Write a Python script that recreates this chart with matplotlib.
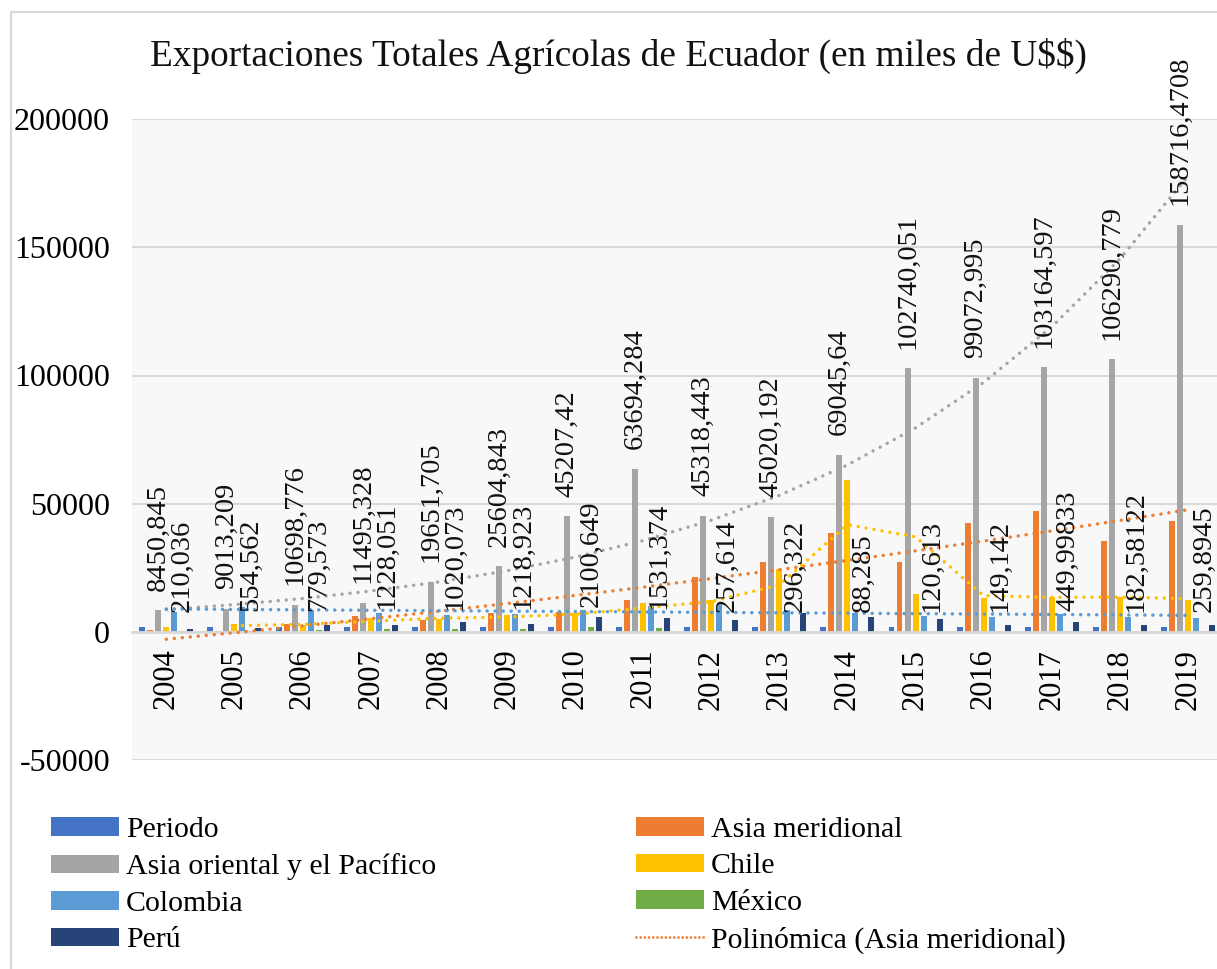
import numpy as np
import matplotlib
matplotlib.use("Agg")
import matplotlib.pyplot as plt
from matplotlib.patches import Patch
from matplotlib.lines import Line2D

plt.rcParams['font.family'] = ['Liberation Serif', 'DejaVu Serif']

years = [2004, 2005, 2006, 2007, 2008, 2009, 2010, 2011, 2012, 2013, 2014, 2015, 2016, 2017, 2018, 2019]
periodo = [2004, 2005, 2006, 2007, 2008, 2009, 2010, 2011, 2012, 2013, 2014, 2015, 2016, 2017, 2018, 2019]
asia_meridional = [700, 400, 3250, 6100, 4550, 7400, 7800, 12500, 21600, 27400, 38700, 27400, 42500, 47100, 35400, 43300]
asia_oriental = [8450.845, 9013.209, 10698.776, 11495.328, 19651.705, 25604.843, 45207.42, 63694.284,
                 45318.443, 45020.192, 69045.64, 102740.051, 99072.995, 103164.597, 106290.779, 158716.4708]
chile = [1800, 3100, 2900, 5500, 5200, 6500, 7400, 11400, 12300, 24400, 59300, 14900, 13400, 13600, 13600, 12400]
colombia = [7900, 9700, 8700, 7300, 6750, 7100, 8600, 10000, 10500, 8600, 7500, 6400, 6000, 7200, 5900, 5600]
mexico = [210.036, 554.562, 779.573, 1228.051, 1020.073, 1218.923, 2100.649, 1531.374, 257.614, 296.322,
          88.285, 120.613, 149.142, 449.99833, 182.58122, 259.8945]
peru = [1300, 1700, 2600, 2900, 3800, 3100, 6000, 5400, 4600, 7400, 6000, 5100, 2900, 4000, 2600, 2600]

series_names = ["Periodo", "Asia meridional", "Asia oriental y el Pacífico", "Chile", "Colombia", "México", "Perú"]
series_vals = [periodo, asia_meridional, asia_oriental, chile, colombia, mexico, peru]
colors = ["#4472C4", "#ED7D31", "#A5A5A5", "#FFC000", "#5B9BD5", "#70AD47", "#264478"]
yticks = [-50000, 0, 50000, 100000, 150000, 200000]
title = "Exportaciones Totales Agrícolas de Ecuador (en miles de U$$)"

W, H = 1217, 969
fig = plt.figure(figsize=(W / 100, H / 100), dpi=100)
fig.patch.set_facecolor("white")
fig.add_artist(plt.Rectangle((11 / W, -0.1), 1.2, 1 - 12 / H + 0.1, transform=fig.transFigure,
                             fill=False, edgecolor="#D9D9D9", lw=1.5))

left, right, top, bottom = 132.25, 1222, 119, 760.25
ax = fig.add_axes([left / W, 1 - bottom / H, (right - left) / W, (bottom - top) / H])
ax.set_facecolor("#F8F8F8")

x = np.arange(len(years))
pitch = 0.1175
width = 0.088
for i, (name, vals, c) in enumerate(zip(series_names, series_vals, colors)):
    ax.bar(x + (i - 3) * pitch, vals, width, color=c, label=name, zorder=2)

# data labels (Asia oriental and México)
for idx in (2, 5):
    for xi, v in zip(x, series_vals[idx]):
        ax.annotate(repr(v).replace(".", ","), (xi + (idx - 3) * pitch, v), xytext=(0, 14),
                    textcoords="offset points", rotation=90, ha="center", va="bottom",
                    fontsize=20.5, color="#111111", zorder=5, annotation_clip=False)

dot = dict(linestyle=(0, (0.01, 2.3)), dash_capstyle="round", lw=2.5, zorder=4)
xt = x + 1.0  # Excel trendline x = 1..n
bexp = np.polyfit(xt, np.log(asia_oriental), 1)
ax.plot(x, np.exp(np.polyval(bexp, xt)), color=colors[2], **dot)
p2 = np.polyfit(xt, asia_meridional, 2)
ax.plot(x, np.polyval(p2, xt), color=colors[1], **dot)
ch = np.array(chile, dtype=float)
ax.plot(x[1:], (ch[1:] + ch[:-1]) / 2, color=colors[3], **dot)
p1 = np.polyfit(xt, colombia, 1)
ax.plot(x, np.polyval(p1, xt), color=colors[4], **dot)

ax.set_xlim(-0.5, len(years) - 0.5)
ax.set_ylim(-50000, 200000)
ax.set_yticks(yticks)
ax.set_yticklabels([str(t) for t in yticks], fontsize=23)
ax.yaxis.grid(True, color="#D9D9D9", lw=1.5, zorder=0)
ax.set_axisbelow(True)
for s in ("top", "right", "left"):
    ax.spines[s].set_visible(False)
ax.spines["bottom"].set_position(("data", 0))
ax.spines["bottom"].set_color("#D9D9D9")
ax.spines["bottom"].set_linewidth(2)
ax.spines["bottom"].set_zorder(3)
ax.set_xticks(x)
ax.set_xticklabels([str(y) for y in years], rotation=90, fontsize=22)
ax.tick_params(axis="x", length=0, pad=12)
ax.tick_params(axis="y", length=0, pad=16)

fig.text(618 / W, 1 - 56 / H, title, ha="center", va="center", fontsize=26.8, color="#111111",
         parse_math=False)

h = {n: Patch(facecolor=c) for n, c in zip(series_names, colors)}
poly_handle = Line2D([0], [0], color=colors[1], linestyle=(0, (0.01, 1.5)), dash_capstyle="round", lw=2)
handles = [h["Periodo"], h["Asia oriental y el Pacífico"], h["Colombia"], h["Perú"],
           h["Asia meridional"], h["Chile"], h["México"], poly_handle]
labels = ["Periodo", "Asia oriental y el Pacífico", "Colombia", "Perú",
          "Asia meridional", "Chile", "México", "Polinómica (Asia meridional)"]
fig.legend(handles, labels, ncol=2, loc="upper left", bbox_to_anchor=(51 / W, 1 - 817 / H),
           frameon=False, fontsize=21.5, handlelength=2.27, handleheight=0.57, handletextpad=0.23,
           labelspacing=0.35, columnspacing=6.7, borderpad=0, borderaxespad=0)

fig.savefig("out.png", dpi=100)
